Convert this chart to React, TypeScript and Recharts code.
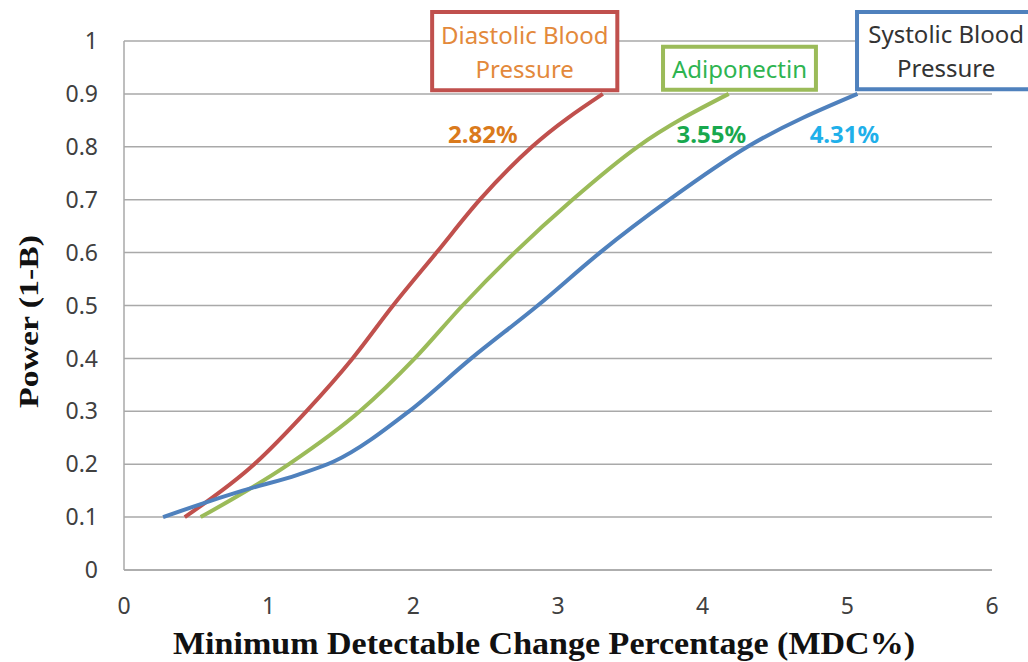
import {
  LineChart,
  Line,
  XAxis,
  YAxis,
  CartesianGrid,
  ReferenceArea,
  ReferenceDot,
  Label,
} from "recharts";

// power curves: x = MDC %, y = power
const diastolic = [
  { x: 0.42, y: 0.1 },
  { x: 0.9, y: 0.2 },
  { x: 1.26, y: 0.3 },
  { x: 1.58, y: 0.4 },
  { x: 1.86, y: 0.5 },
  { x: 2.16, y: 0.6 },
  { x: 2.46, y: 0.7 },
  { x: 2.82, y: 0.8 },
  { x: 3.31, y: 0.9 },
];

const adiponectin = [
  { x: 0.53, y: 0.1 },
  { x: 1.14, y: 0.2 },
  { x: 1.63, y: 0.3 },
  { x: 2.01, y: 0.4 },
  { x: 2.34, y: 0.5 },
  { x: 2.7, y: 0.6 },
  { x: 3.1, y: 0.7 },
  { x: 3.55, y: 0.8 },
  { x: 4.18, y: 0.9 },
];

const systolic = [
  { x: 0.27, y: 0.1 },
  { x: 0.48, y: 0.12 },
  { x: 0.82, y: 0.15 },
  { x: 1.2, y: 0.18 },
  { x: 1.45, y: 0.205 },
  { x: 1.97, y: 0.3 },
  { x: 2.4, y: 0.4 },
  { x: 2.86, y: 0.5 },
  { x: 3.29, y: 0.6 },
  { x: 3.77, y: 0.7 },
  { x: 4.31, y: 0.8 },
  { x: 5.07, y: 0.9 },
];

const xTicks = [0, 1, 2, 3, 4, 5, 6];
const yTicks = [0, 0.1, 0.2, 0.3, 0.4, 0.5, 0.6, 0.7, 0.8, 0.9, 1];

// callouts: name lines, box extent in data units, colours
const callouts = [
  { lines: ["Diastolic Blood", "Pressure"], x1: 2.13, x2: 3.41, y1: 0.907, y2: 1.055, border: "#C0504D", text: "#E3893B" },
  { lines: ["Adiponectin"], x1: 3.726, x2: 4.783, y1: 0.908, y2: 0.989, border: "#9BBB59", text: "#2EB450" },
  { lines: ["Systolic Blood", "Pressure"], x1: 5.067, x2: 6.3, y1: 0.909, y2: 1.055, border: "#4F81BD", text: "#333333" },
];

// MDC % at power 0.8
const marks = [
  { label: "2.82%", x: 2.48, y: 0.824, color: "#DA7A1C" },
  { label: "3.55%", x: 4.06, y: 0.824, color: "#18A84E" },
  { label: "4.31%", x: 4.98, y: 0.824, color: "#1FB0EA" },
];

const FONT = "'Noto Sans', sans-serif";
const SERIF = "'Liberation Serif', 'DejaVu Serif', serif";
const GRID = "#a9a9a9";

function boxLabel(lines: string[], color: string) {
  return (props: any) => {
    const { x, y, width, height } = props.viewBox;
    const cx = x + width / 2;
    const gap = 34;
    const top = y + height / 2 - ((lines.length - 1) * gap) / 2;
    return (
      <text textAnchor="middle" fill={color} fontFamily={FONT} fontSize={24}>
        {lines.map((l, i) => (
          <tspan key={i} x={cx} y={top + i * gap} dominantBaseline="central">
            {l}
          </tspan>
        ))}
      </text>
    );
  };
}

export default function App() {
  return (
    <div style={{ position: "absolute", left: 0, top: 0, background: "#fff" }}>
      <LineChart
        width={1028}
        height={662}
        margin={{ top: 41, right: 36, bottom: 12, left: 0 }}
      >
        <CartesianGrid vertical={false} stroke={GRID} strokeWidth={1.5} />
        <XAxis
          type="number"
          dataKey="x"
          domain={[0, 6]}
          ticks={xTicks}
          height={80}
          tickLine={false}
          tickMargin={22}
          axisLine={{ stroke: GRID, strokeWidth: 1.5 }}
          tick={{ fill: "#404040", fontSize: 23, fontFamily: FONT }}
        >
          <Label
            content={(p: any) => {
              const { x, y, width } = p.viewBox;
              return (
                <text
                  x={x + width / 2 - 14}
                  y={y + 84}
                  textAnchor="middle"
                  fontFamily={SERIF}
                  fontWeight="bold"
                  fontSize={32}
                  fill="#111"
                  textLength={742}
                  lengthAdjust="spacingAndGlyphs"
                >
                  Minimum Detectable Change Percentage (MDC%)
                </text>
              );
            }}
          />
        </XAxis>
        <YAxis
          type="number"
          domain={[0, 1]}
          ticks={yTicks}
          width={124}
          tickLine={false}
          tickMargin={20}
          axisLine={{ stroke: GRID, strokeWidth: 1.5 }}
          tick={{ fill: "#404040", fontSize: 23, fontFamily: FONT }}
        >
          <Label
            content={(p: any) => {
              const { y, height } = p.viewBox;
              const cy = y + height / 2 + 16;
              return (
                <text
                  x={38}
                  y={cy}
                  transform={`rotate(-90 38 ${cy})`}
                  textAnchor="middle"
                  fontFamily={SERIF}
                  fontWeight="bold"
                  fontSize={27}
                  fill="#111"
                  textLength={173}
                  lengthAdjust="spacingAndGlyphs"
                >
                  Power (1-B)
                </text>
              );
            }}
          />
        </YAxis>

        <Line data={diastolic} dataKey="y" type="monotone" stroke="#C0504D" strokeWidth={4} dot={false} isAnimationActive={false} />
        <Line data={adiponectin} dataKey="y" type="monotone" stroke="#9BBB59" strokeWidth={4} dot={false} isAnimationActive={false} />
        <Line data={systolic} dataKey="y" type="monotone" stroke="#4F81BD" strokeWidth={4} dot={false} isAnimationActive={false} />

        {callouts.map((c, i) => (
          <ReferenceArea
            key={i}
            x1={c.x1}
            x2={c.x2}
            y1={c.y1}
            y2={c.y2}
            ifOverflow="visible"
            fill="#fff"
            fillOpacity={1}
            stroke={c.border}
            strokeWidth={4}
            label={boxLabel(c.lines, c.text)}
          />
        ))}

        {marks.map((m, i) => (
          <ReferenceDot
            key={i}
            x={m.x}
            y={m.y}
            r={1}
            fill="none"
            stroke="none"
            ifOverflow="visible"
            label={{
              value: m.label,
              position: "center",
              fill: m.color,
              fontSize: 24,
              fontWeight: "bold",
              fontFamily: FONT,
            }}
          />
        ))}
      </LineChart>
    </div>
  );
}
